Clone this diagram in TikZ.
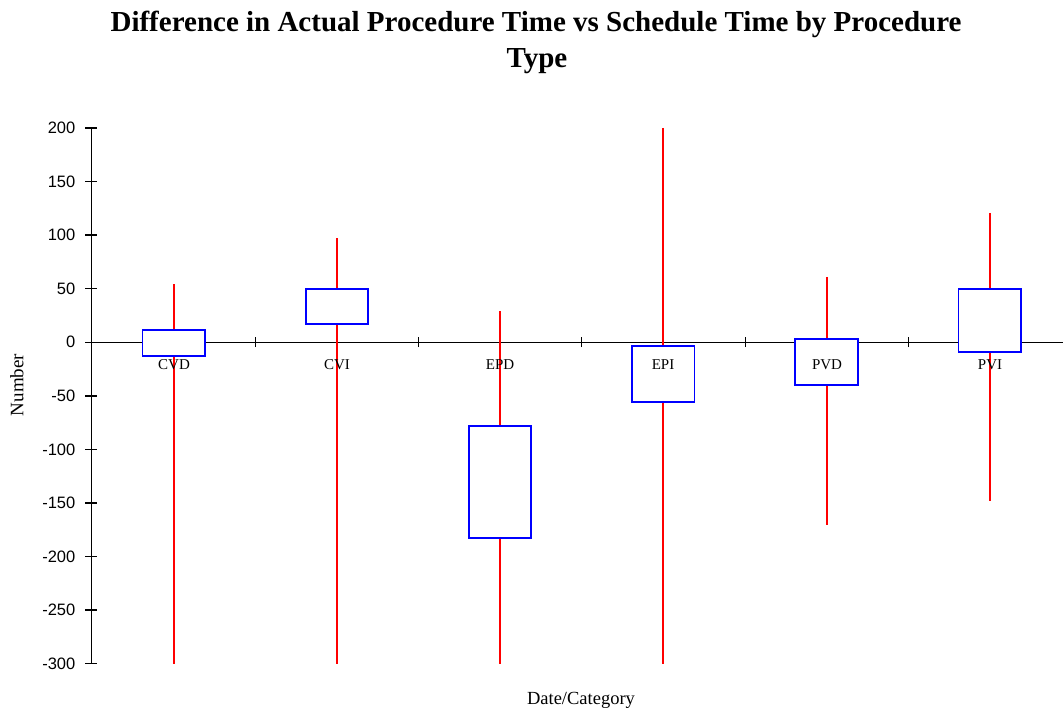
\documentclass[tikz,border=0pt]{standalone}
\usepackage{fontspec}
\setmainfont{Liberation Serif}
\newfontfamily\axisfont{Liberation Sans}
\begin{document}
\begin{tikzpicture}[x=1pt, y=-1pt, line join=miter, line cap=butt,
		whisker/.style={red, line width=2pt},
		boxplot/.style={blue, line width=1.8pt, fill=white},
		axisline/.style={black, line width=1.4pt},
		ticklabel/.style={font=\fontsize{16.5}{18}\axisfont, anchor=east, inner sep=0pt},
		catlabel/.style={font=\fontsize{15}{17}\selectfont, anchor=base, inner sep=0pt}]
	\useasboundingbox (0,0) rectangle (1063,708);
	% titles
	\node[font=\fontsize{29}{32}\selectfont\bfseries, anchor=base, inner sep=0pt] (title) at (536,32) {Difference in Actual Procedure Time vs Schedule Time by Procedure};
	\node[font=\fontsize{29}{32}\selectfont\bfseries, anchor=base, inner sep=0pt] (titletype) at (537,68) {Type};
	\node[font=\fontsize{19}{21}\selectfont, rotate=90, inner sep=0pt] (ylabel) at (17,385) {Number};
	\node[font=\fontsize{18.5}{20}\selectfont, anchor=base, inner sep=0pt] (xlabel) at (581,704) {Date/Category};
	
	\begin{scope}[shift={(0,342.3)}, y=1.0715pt]
		\coordinate (O) at (91.5,0);
		\coordinate (ytop) at (91.5,200);
		\coordinate (ybot) at (91.5,-300);
		\coordinate (xend) at (1063,0);
		\draw[axisline] (ytop) -- (ybot);
		\draw[axisline] (O) -- (xend);
		\foreach \v in {200,150,...,-300}
			\draw[axisline] (85,\v) -- (97,\v) node[ticklabel, at start, xshift=-9pt] {\v};
		\foreach \t in {255.5,418.5,581.5,745.5,908.5}
			\draw[axisline] (\t,-4.5) -- (\t,4.5);
		
		% whiskers
		\draw[whisker] (174,54) -- (174,-300);
		\draw[whisker] (337,97) -- (337,-300);
		\draw[whisker] (500,29.2) -- (500,-300);
		\draw[whisker] (663,200) -- (663,-300);
		\draw[whisker] (827,61) -- (827,-170.5);
		\draw[whisker] (990,120.7) -- (990,-148);
		
		% boxes
		\draw[boxplot] (142.5,-12.5) rectangle (204.9,11.2);
		\draw[boxplot] (305.7,17.4) rectangle (368.1,49.6);
		\draw[boxplot] (468.9,-182.6) rectangle (531.3,-78.1);
		\draw[boxplot] (632.1,-55.7) rectangle (694.5,-3.2);
		\draw[boxplot] (795.3,-39.8) rectangle (857.7,3.4);
		\draw[boxplot] (958.5,-9) rectangle (1020.9,49.5);
	\end{scope}
	
	\node[catlabel] (cvd) at (174,370) {CVD};
	\node[catlabel] (cvi) at (337,370) {CVI};
	\node[catlabel] (epd) at (500,370) {EPD};
	\node[catlabel] (epi) at (663,370) {EPI};
	\node[catlabel] (pvd) at (827,370) {PVD};
	\node[catlabel] (pvi) at (990,370) {PVI};
\end{tikzpicture}
\end{document}
